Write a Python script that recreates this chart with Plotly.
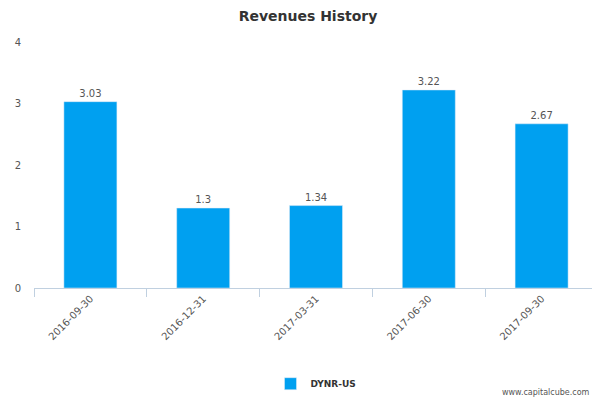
import plotly.graph_objects as go

categories = ["2016-09-30", "2016-12-31", "2017-03-31", "2017-06-30", "2017-09-30"]
values = [3.03, 1.3, 1.34, 3.22, 2.67]
labels = ["3.03", "1.3", "1.34", "3.22", "2.67"]

fig = go.Figure(go.Bar(x=categories, y=values, text=labels, textposition="outside",
                       textfont=dict(size=10, color="#555"), marker_color="#00a0f0",
                       width=0.47, name="<b>DYNR-US</b>", cliponaxis=False))
fig.update_layout(
    width=600, height=400, plot_bgcolor="white", paper_bgcolor="white",
    margin=dict(l=26, r=10, t=34, b=120),
    title=dict(text="<b>Revenues History</b>", x=0.5, xanchor="center", y=0.98, yanchor="middle",
               font=dict(size=14, color="#333", family="DejaVu Sans")),
    font=dict(family="DejaVu Sans", color="#555", size=10),
    showlegend=True,
    legend=dict(orientation="h", x=0.5, xanchor="center", y=-0.33, font=dict(size=9, color="#333")),
    xaxis=dict(type="category", tickangle=-45, showline=True, linecolor="#c0d0e0", ticks="outside",
               tickcolor="#c0d0e0", ticklen=8, tickson="boundaries", automargin=False),
    yaxis=dict(range=[0, 4], dtick=1, showgrid=False, zeroline=False, automargin=False, ticklabelstandoff=12),
)
fig.add_annotation(text="www.capitalcube.com", xref="paper", yref="paper", x=0.99, y=-0.45,
                   showarrow=False, xanchor="right", font=dict(size=8, color="#555"))
fig.write_html("out.html")
